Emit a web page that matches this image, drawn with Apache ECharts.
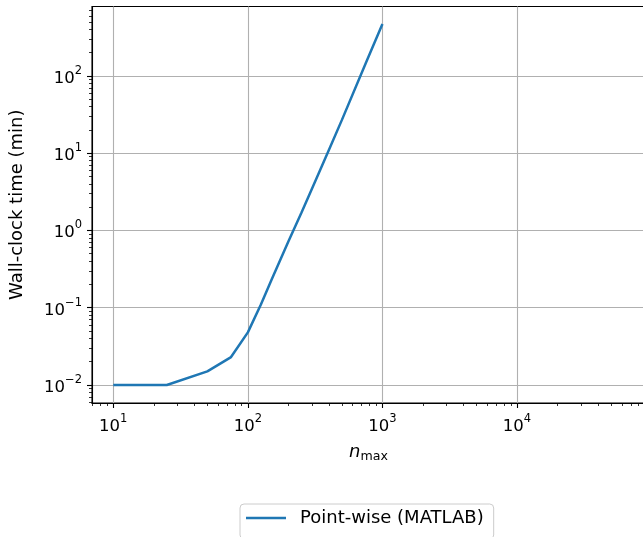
<!DOCTYPE html>
<html>
<head>
<meta charset="utf-8">
<script src="https://cdn.jsdelivr.net/npm/echarts@6/dist/echarts.min.js"></script>
<style>
  html, body { margin: 0; padding: 0; background: #fff; }
  #chart { width: 643px; height: 537px; }
</style>
</head>
<body>
<div id="chart"></div>
<script>
// n_max values and wall-clock time (min)
const nMax = [10, 25, 50, 75, 100, 125, 150, 200, 250, 300, 400, 500, 750, 1000]
const wallTime = [0.010, 0.010, 0.015, 0.023, 0.048, 0.11, 0.23, 0.72, 1.7, 3.5, 11, 27, 145, 470]

const xMajorTicks = [10, 100, 1000, 10000]
const yMajorTicks = [0.01, 0.1, 1, 10, 100]
const xRange = [6.95, 89300]
const yRange = [0.00585, 792]

// minor log ticks 2..9 x 10^k inside the range
const minorTicks = (range) => {
  const out = []
  for (let k = -4; k <= 6; k++) {
    for (let m = 2; m <= 9; m++) {
      const v = m * Math.pow(10, k)
      if (v >= range[0] && v <= range[1]) out.push(+v.toPrecision(3))
    }
  }
  return out
}

const FONT = 'DejaVu Sans'
const GRID_W = 643 - 92 + 2
const GRID_H = 537 - 6.5 - 134

const powLabel = (v) => {
  const e = Math.round(Math.log10(v))
  return '{b|10}{s|' + String(e).replace('-', '\u2212') + '}'
}
const powRich = {
  b: { fontFamily: FONT, fontSize: 16.5, color: '#000', lineHeight: 22, verticalAlign: 'bottom' },
  s: { fontFamily: FONT, fontSize: 11.5, color: '#000', lineHeight: 12, verticalAlign: 'top' }
}
const gridLine = { show: true, lineStyle: { color: '#b0b0b0', width: 1.1 } }

const chart = echarts.init(document.getElementById('chart'), null, { renderer: 'canvas' })

chart.setOption({
  animation: false,
  backgroundColor: '#fff',
  grid: {
    left: 92, top: 6.5, right: -2, bottom: 134,
    show: true, borderColor: '#000', borderWidth: 1.1,
    outerBoundsMode: 'none'
  },
  legend: {
    left: 240, top: 504,
    padding: [5, 10, 12, 6],
    borderColor: '#cccccc', borderWidth: 1, borderRadius: 4,
    backgroundColor: '#fff',
    icon: 'rect', itemWidth: 40, itemHeight: 2.4,
    textStyle: { fontFamily: FONT, fontSize: 18, color: '#000', padding: [0, 0, 0, 9] },
    data: ['Point-wise (MATLAB)']
  },
  xAxis: [
    {
      type: 'log', min: xRange[0], max: xRange[1],
      position: 'bottom',
      name: '{n|n}{m|max}',
      nameLocation: 'middle', nameGap: 40,
      nameTextStyle: {
        rich: {
          n: { fontFamily: FONT, fontStyle: 'italic', fontSize: 18, color: '#000', lineHeight: 20, verticalAlign: 'top' },
          m: { fontFamily: FONT, fontSize: 12.6, color: '#000', lineHeight: 14, verticalAlign: 'bottom' }
        }
      },
      axisLine: { show: true, lineStyle: { color: '#000', width: 1.1 } },
      axisTick: { show: true, length: 5, customValues: xMajorTicks, lineStyle: { color: '#000', width: 1.1 } },
      axisLabel: { customValues: xMajorTicks, formatter: powLabel, rich: powRich, margin: 10 },
      splitLine: gridLine
    },
    {
      // minor ticks, moved onto the bottom spine
      type: 'log', min: xRange[0], max: xRange[1],
      position: 'top', offset: -GRID_H,
      axisLine: { show: false },
      axisTick: { show: true, inside: true, length: 3, customValues: minorTicks(xRange), lineStyle: { color: '#000', width: 0.8 } },
      axisLabel: { show: false },
      splitLine: { show: false }
    }
  ],
  yAxis: [
    {
      type: 'log', min: yRange[0], max: yRange[1],
      position: 'left',
      name: 'Wall-clock time (min)',
      nameLocation: 'middle', nameGap: 64,
      nameTextStyle: { fontFamily: FONT, fontSize: 18, color: '#000', lineHeight: 22 },
      axisLine: { show: true, lineStyle: { color: '#000', width: 1.1 } },
      axisTick: { show: true, length: 5, customValues: yMajorTicks, lineStyle: { color: '#000', width: 1.1 } },
      axisLabel: { customValues: yMajorTicks, formatter: powLabel, rich: powRich, margin: 10 },
      splitLine: gridLine
    },
    {
      // minor ticks, moved onto the left spine
      type: 'log', min: yRange[0], max: yRange[1],
      position: 'right', offset: -GRID_W,
      axisLine: { show: false },
      axisTick: { show: true, inside: true, length: 3, customValues: minorTicks(yRange), lineStyle: { color: '#000', width: 0.8 } },
      axisLabel: { show: false },
      splitLine: { show: false }
    }
  ],
  series: [
    {
      name: 'Point-wise (MATLAB)',
      type: 'line',
      xAxisIndex: 0, yAxisIndex: 0,
      data: nMax.map((n, i) => [n, wallTime[i]]),
      showSymbol: false,
      symbol: 'none',
      color: '#1f77b4',
      lineStyle: { color: '#1f77b4', width: 2.5 }
    }
  ]
})
</script>
</body>
</html>
